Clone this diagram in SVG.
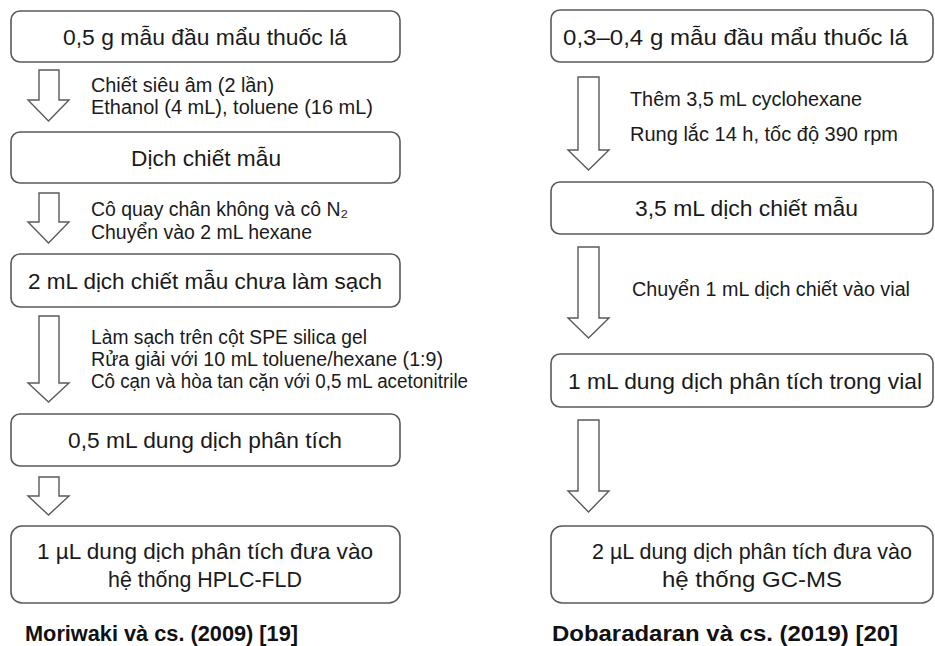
<svg xmlns="http://www.w3.org/2000/svg" width="935" height="646" viewBox="0 0 935 646">
<style>
  .box{fill:#ffffff;stroke:#5a5a5a;stroke-width:1.6}
  .arrow{fill:#ffffff;stroke:#5a5a5a;stroke-width:1.4;stroke-linejoin:miter}
  .bt{font-family:"Liberation Sans",Arial,sans-serif;font-size:22.8px;fill:#1a1a1a}
  .at{font-family:"Liberation Sans",Arial,sans-serif;font-size:20px;fill:#1a1a1a}
  .lb{font-family:"Liberation Sans",Arial,sans-serif;font-size:22px;font-weight:bold;fill:#111111}
</style>
<rect width="935" height="646" fill="#ffffff"/>

<!-- Left column: Moriwaki -->
<g id="L1">
  <rect class="box" x="11" y="11" width="389" height="51" rx="9"/>
  <text class="bt" x="63" y="44.5" textLength="284" lengthAdjust="spacingAndGlyphs">0,5 g mẫu đầu mẩu thuốc lá</text>
</g>
<g id="L2">
  <rect class="box" x="11" y="132" width="389" height="51" rx="9"/>
  <text class="bt" x="131" y="165.5" textLength="150" lengthAdjust="spacingAndGlyphs">Dịch chiết mẫu</text>
</g>
<g id="L3">
  <rect class="box" x="11" y="254" width="389" height="53" rx="9"/>
  <text class="bt" x="28" y="288.5" textLength="354" lengthAdjust="spacingAndGlyphs">2 mL dịch chiết mẫu chưa làm sạch</text>
</g>
<g id="L4">
  <rect class="box" x="11" y="414" width="389" height="52" rx="9"/>
  <text class="bt" x="68" y="448" textLength="274" lengthAdjust="spacingAndGlyphs">0,5 mL dung dịch phân tích</text>
</g>
<g id="L5">
  <rect class="box" x="11" y="526" width="389" height="77" rx="11"/>
  <text class="bt" x="37" y="559" textLength="336" lengthAdjust="spacingAndGlyphs">1 µL dung dịch phân tích đưa vào</text>
  <text class="bt" x="108" y="587" textLength="194" lengthAdjust="spacingAndGlyphs">hệ thống HPLC-FLD</text>
</g>
<g id="L-label">
  <text class="lb" x="25" y="641" textLength="273" lengthAdjust="spacingAndGlyphs">Moriwaki và cs. (2009) [19]</text>
</g>

<!-- Right column: Dobaradaran -->
<g id="R1">
  <rect class="box" x="551" y="10" width="382" height="52" rx="9"/>
  <text class="bt" x="563" y="44.5" textLength="345" lengthAdjust="spacingAndGlyphs">0,3–0,4 g mẫu đầu mẩu thuốc lá</text>
</g>
<g id="R2">
  <rect class="box" x="551" y="182" width="382" height="52" rx="9"/>
  <text class="bt" x="635" y="216" textLength="223" lengthAdjust="spacingAndGlyphs">3,5 mL dịch chiết mẫu</text>
</g>
<g id="R3">
  <rect class="box" x="551" y="354" width="382" height="53" rx="9"/>
  <text class="bt" x="568" y="388.5" textLength="354" lengthAdjust="spacingAndGlyphs">1 mL dung dịch phân tích trong vial</text>
</g>
<g id="R4">
  <rect class="box" x="551" y="526" width="382" height="77" rx="11"/>
  <text class="bt" x="592" y="559" textLength="320" lengthAdjust="spacingAndGlyphs">2 µL dung dịch phân tích đưa vào</text>
  <text class="bt" x="662" y="587" textLength="180" lengthAdjust="spacingAndGlyphs">hệ thống GC-MS</text>
</g>
<g id="R-label">
  <text class="lb" x="552" y="641" textLength="346" lengthAdjust="spacingAndGlyphs">Dobaradaran và cs. (2019) [20]</text>
</g>

<!-- Connectors: block arrows with step labels -->
<g id="connectors">
  <path class="arrow" d="M39,70 H59 V100 H69 L48.5,121 L28,100 H39 Z"/>
  <path class="arrow" d="M39,193 H59 V222 H69 L48.5,243 L28,222 H39 Z"/>
  <path class="arrow" d="M39,316 H59 V383 H69 L48.5,402 L28,383 H39 Z"/>
  <path class="arrow" d="M39,477 H59 V496 H69 L48.5,515 L28,496 H39 Z"/>
  <path class="arrow" d="M578,77 H599 V150 H609 L588.5,170 L568,150 H578 Z"/>
  <path class="arrow" d="M578,247 H599 V318 H609 L588.5,338 L568,318 H578 Z"/>
  <path class="arrow" d="M578,420 H599 V491 H609 L588.5,512 L568,491 H578 Z"/>

  <g id="step-labels">
    <text class="at" x="91" y="92" textLength="183" lengthAdjust="spacingAndGlyphs">Chiết siêu âm (2 lần)</text>
    <text class="at" x="91" y="114" textLength="282" lengthAdjust="spacingAndGlyphs">Ethanol (4 mL), toluene (16 mL)</text>
    <text class="at" x="91" y="216" textLength="257" lengthAdjust="spacingAndGlyphs">Cô quay chân không và cô N₂</text>
    <text class="at" x="91" y="239" textLength="221" lengthAdjust="spacingAndGlyphs">Chuyển vào 2 mL hexane</text>
    <text class="at" x="91" y="344" textLength="276" lengthAdjust="spacingAndGlyphs">Làm sạch trên cột SPE silica gel</text>
    <text class="at" x="91" y="366" textLength="352" lengthAdjust="spacingAndGlyphs">Rửa giải với 10 mL toluene/hexane  (1:9)</text>
    <text class="at" x="91" y="388" textLength="377" lengthAdjust="spacingAndGlyphs">Cô cạn và hòa tan cặn với 0,5 mL acetonitrile</text>
    <text class="at" x="630" y="106" textLength="232" lengthAdjust="spacingAndGlyphs">Thêm 3,5 mL cyclohexane</text>
    <text class="at" x="630" y="141" textLength="268" lengthAdjust="spacingAndGlyphs">Rung lắc 14 h, tốc độ 390 rpm</text>
    <text class="at" x="632" y="296" textLength="278" lengthAdjust="spacingAndGlyphs">Chuyển 1 mL dịch chiết vào vial</text>
  </g>
</g>
</svg>
